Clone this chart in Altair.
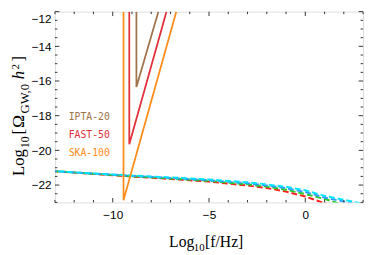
import altair as alt
import pandas as pd

# ---------------- data ----------------
det_names = ["IPTA-20", "FAST-50", "SKA-100"]
det_colors = ["#a0734a", "#e0303a", "#ff8c1a"]
det_x_edge = [-8.77, -9.14, -9.44]
det_y_min = [-16.35, -19.65, -22.87]
det_x_top = [-7.63, -7.21, -6.70]
y_top = -12.0

spec_x = [-13, -11, -9, -7, -5, -3, -2, -1, 0, 1, 2, 3]
spec_red = [-21.20, -21.36, -21.51, -21.65, -21.80, -22.03, -22.17, -22.38, -22.66, -23.05, -23.40, -23.70]
spec_green = [-21.20, -21.35, -21.49, -21.62, -21.76, -21.96, -22.09, -22.27, -22.52, -22.80, -23.15, -23.45]
spec_blue = [-21.20, -21.34, -21.47, -21.59, -21.72, -21.90, -22.02, -22.18, -22.40, -22.72, -22.95, -23.20]
spec_cyan = [-21.20, -21.33, -21.45, -21.56, -21.68, -21.84, -21.96, -22.10, -22.30, -22.62, -22.85, -23.08]
spec_names = ["red", "green", "blue", "cyan"]
spec_colors = ["#ff2020", "#22cc22", "#3399ff", "#00e5ff"]

x_major = [-10, -5, 0]
x_minor = [v for v in range(-13, 4) if v not in x_major]
y_major = [-22, -20, -18, -16, -14, -12]
y_minor = [v / 2 for v in range(-46, -23) if (v / 2) not in y_major]

W, H = 315, 195
FRAME = "#333333"

# ---------------- tables ----------------
rows = []
for n, xe, ym, xt in zip(det_names, det_x_edge, det_y_min, det_x_top):
    rows += [dict(name=n, x=xe, y=y_top, o=0), dict(name=n, x=xe, y=ym, o=1), dict(name=n, x=xt, y=y_top, o=2)]
det_df = pd.DataFrame(rows)

xs = alt.Scale(domain=[-13, 3], nice=False, zero=False)
ys = alt.Scale(domain=[-23, -12], nice=False, zero=False)
xax = alt.Axis(values=x_major, title=None, tickSize=0, domain=False, grid=False,
               labelFont="Liberation Sans", labelFontSize=12, labelColor="black",
               labelPadding=7, labelOverlap=False, labelFlush=False)
yax = alt.Axis(values=y_major, title=None, tickSize=0, domain=False, grid=False,
               labelFont="Liberation Sans", labelFontSize=12, labelColor="black",
               labelPadding=4, labelOverlap=False, labelFlush=True, labelFlushOffset=-2)

def X(f):
    return alt.X(f, scale=xs, axis=xax)

def Y(f):
    return alt.Y(f, scale=ys, axis=yax)

layers = []
for name, col, vals, off in zip(spec_names, spec_colors, [spec_red, spec_green, spec_blue, spec_cyan], [0, 2, 4, 6]):
    df = pd.DataFrame({"x": spec_x, "y": vals})
    layers.append(
        alt.Chart(df).mark_line(clip=True, color=col, strokeWidth=2, strokeDash=[6, 3], strokeDashOffset=off).encode(
            x=X("x:Q"), y=Y("y:Q"))
    )

det = alt.Chart(det_df).mark_line(clip=True, strokeWidth=1.8).encode(
    x=X("x:Q"),
    y=Y("y:Q"),
    color=alt.Color("name:N", scale=alt.Scale(domain=det_names, range=det_colors), legend=None),
    order="o:Q",
    detail="name:N",
)
layers.append(det)

# legend-like labels
for n, c, yy in zip(det_names, det_colors, [108, 126.5, 145]):
    layers.append(
        alt.Chart(pd.DataFrame({"t": [n]})).mark_text(
            font="DejaVu Sans Mono", fontSize=10, color=c, align="left", baseline="middle"
        ).encode(text="t:N", x=alt.value(14), y=alt.value(yy))
    )

# inward frame ticks
def ticks_x(vals, length):
    df = pd.DataFrame({"v": vals})
    b = alt.Chart(df).mark_rule(color=FRAME, strokeWidth=1).encode(x=X("v:Q"), y=alt.value(H), y2=alt.value(H - length))
    t = alt.Chart(df).mark_rule(color=FRAME, strokeWidth=1).encode(x=X("v:Q"), y=alt.value(0), y2=alt.value(length))
    return [b, t]

def ticks_y(vals, length):
    df = pd.DataFrame({"v": vals})
    l = alt.Chart(df).mark_rule(color=FRAME, strokeWidth=1).encode(y=Y("v:Q"), x=alt.value(0), x2=alt.value(length))
    r = alt.Chart(df).mark_rule(color=FRAME, strokeWidth=1).encode(y=Y("v:Q"), x=alt.value(W), x2=alt.value(W - length))
    return [l, r]

layers += ticks_x(x_major, 4.5) + ticks_x(x_minor, 2.5) + ticks_y(y_major, 4.5) + ticks_y(y_minor, 2.5)

# axis titles composed of pieces (sub/superscripts)
SERIF = "Liberation Serif"
ytitle = [
    ("Log", 177.0, 24.0, 17, "normal"),
    ("10", 148.5, 29.5, 12, "normal"),
    ("[", 134.5, 24.0, 17, "normal"),
    ("Ω", 128.0, 24.0, 18, "normal"),
    ("GW,0", 113.0, 29.5, 13, "normal"),
    ("h", 78.0, 24.0, 17, "italic"),
    ("2", 68.0, 19.0, 11, "normal"),
    ("]", 60.0, 24.0, 17, "normal"),
]
for t, ya, xa, fs, st in ytitle:
    layers.append(
        alt.Chart(pd.DataFrame({"t": [t]})).mark_text(
            font=SERIF, fontSize=fs, fontStyle=st, angle=270, align="left", baseline="alphabetic", color="black"
        ).encode(text="t:N", x=alt.value(xa - 56), y=alt.value(ya - 9))
    )

xtitle = [
    ("Log", 172.7, 250.0, 16),
    ("10", 198.0, 254.0, 11),
    ("[f/Hz]", 209.5, 250.0, 16),
]
for t, xa, ya, fs in xtitle:
    layers.append(
        alt.Chart(pd.DataFrame({"t": [t]})).mark_text(
            font=SERIF, fontSize=fs, align="left", baseline="alphabetic", color="black"
        ).encode(text="t:N", x=alt.value(xa - 56), y=alt.value(ya - 9))
    )

chart = alt.layer(*layers).properties(
    width=W, height=H,
    autosize=alt.AutoSizeParams(type="none"),
    padding={"left": 48, "top": 1, "right": 3, "bottom": 50},
).configure_view(stroke=FRAME, strokeWidth=1).configure(background="white")

chart.save("out.html", embed_options={"renderer": "svg", "actions": False})
